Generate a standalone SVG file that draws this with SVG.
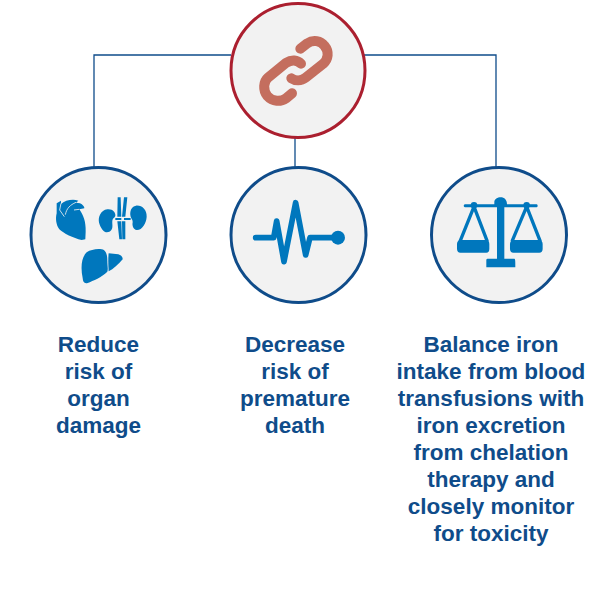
<svg xmlns="http://www.w3.org/2000/svg" width="611" height="600" viewBox="0 0 611 600">
<style>
.n{fill:#f2f2f2;stroke:#0f4c8a;stroke-width:3}
.r{fill:#f2f2f2;stroke:#ab1f2f;stroke-width:3}
.i{fill:#0077bd}
.s{fill:none;stroke:#0077bd;stroke-linecap:round;stroke-linejoin:round}
.c{fill:none;stroke:#0f4c8a;stroke-width:1.3}
.l{font:bold 22.5px "Liberation Sans",Arial,sans-serif;fill:#0f4c8a;text-anchor:middle}
</style>
<rect width="611" height="600" fill="#fff"/>
<g id="connectors">
<path class="c" d="M231 55H94V168"/>
<path class="c" d="M364 55H496V168"/>
<path class="c" d="M295 137V168"/>
</g>
<g id="node-top">
<circle class="r" cx="298" cy="70.500" r="67"/>
<g transform="translate(220,0) scale(.3333)" fill="none" stroke="#c46e5e" stroke-width="30" stroke-linecap="round" stroke-linejoin="round">
<path d="M243 191C232 180 215 178 199 188L145 232C130 245 128 270 142 288C158 306 182 306 198 295L216 280"/>
<path d="M241 146L262 130C280 118 302 122 314 138C328 155 325 178 310 191L257 233C243 244 226 243 214 235"/>
</g>
</g>
<g id="node-organs">
<circle class="n" cx="98.500" cy="235" r="67.500"/>
<g transform="translate(50,190) scale(.3333)" class="i">
<path d="M20 40L33 32V42C45 30 70 26 85 32L78 38L90 40C98 44 104 50 103 55L88 58C100 75 108 95 107 125L106 148L95 150C70 145 40 130 28 118C18 105 16 85 20 70Z"/>
<path d="M33 40L29 60L43 80M46 74C50 55 60 45 78 37M72 60L88 58" fill="none" stroke="#f2f2f2" stroke-width="2.500"/>
<path d="M172 58C188 56 198 68 196 78C194 84 188 84 187 92C186 102 190 112 184 120C178 128 166 130 158 120C148 106 142 90 150 74C155 65 162 59 172 58Z"/>
<path d="M258 47C276 45 291 60 290 80C289 100 276 121 260 120C250 119 246 107 248 97C249 89 244 87 242 80C238 65 244 49 258 47Z"/>
<path d="M203 22H212L214 80H202ZM222 22H232L226 80H216ZM202 94H214L216 148H208ZM216 94H226L226 148H217Z"/>
<path d="M196 84H214V90H196ZM222 84H242V90H222Z"/>
<path d="M146 177C170 174 172 197 172 212C172 227 175 237 172 245C155 262 130 272 113 279C102 282 99 274 98 264C92 237 93 202 110 187C120 180 132 178 146 177Z"/>
<path d="M176 190L205 193C213 195 219 202 218 208C205 224 190 237 176 244C175 227 174 207 176 190Z"/>
</g>
</g>
<g id="node-pulse">
<circle class="n" cx="298.500" cy="235" r="67.500"/>
<g transform="translate(225,160) scale(.3333)">
<path class="s" stroke-width="17" d="M92 233H146L155 183L177 305L212 128L242 285L255 233H340"/>
<circle class="i" cx="339" cy="233" r="21"/>
</g>
</g>
<g id="node-scales">
<circle class="n" cx="499" cy="235" r="67.500"/>
<g transform="translate(425,160) scale(.3333)">
<path class="i" d="M120 133H208V126C208 118 218 112 227 112C238 112 246 120 246 133H335C339 133 339 142 335 142H238V296H267C271 296 271 300 271 322H184V300C184 297 186 296 190 296H216V142H120C115 142 115 133 120 133Z"/>
<circle class="i" cx="147" cy="136" r="10"/>
<circle class="i" cx="305" cy="136" r="10"/>
<path class="s" stroke-width="10" d="M147 140L106 242M147 140L186 242M305 140L262 242M305 140L345 242"/>
<path class="i" d="M96 252C96 245 100 240 106 240H184C190 240 193 245 193 252V266C193 274 190 278 184 278H106C100 278 96 274 96 266Z"/>
<path class="i" d="M255 252C255 245 259 240 265 240H343C349 240 353 245 353 252V266C353 274 349 278 343 278H265C259 278 255 274 255 266Z"/>
</g>
</g>
<g id="label-organs">
<text class="l" x="98.500" y="352">Reduce</text>
<text class="l" x="98.500" y="379">risk of</text>
<text class="l" x="98.500" y="406">organ</text>
<text class="l" x="98.500" y="433">damage</text>
</g>
<g id="label-pulse">
<text class="l" x="295" y="352">Decrease</text>
<text class="l" x="295" y="379">risk of</text>
<text class="l" x="295" y="406">premature</text>
<text class="l" x="295" y="433">death</text>
</g>
<g id="label-scales">
<text class="l" x="491" y="352">Balance iron</text>
<text class="l" x="491" y="379">intake from blood</text>
<text class="l" x="491" y="406">transfusions with</text>
<text class="l" x="491" y="433">iron excretion</text>
<text class="l" x="491" y="460">from chelation</text>
<text class="l" x="491" y="487">therapy and</text>
<text class="l" x="491" y="514">closely monitor</text>
<text class="l" x="491" y="541">for toxicity</text>
</g>
</svg>
